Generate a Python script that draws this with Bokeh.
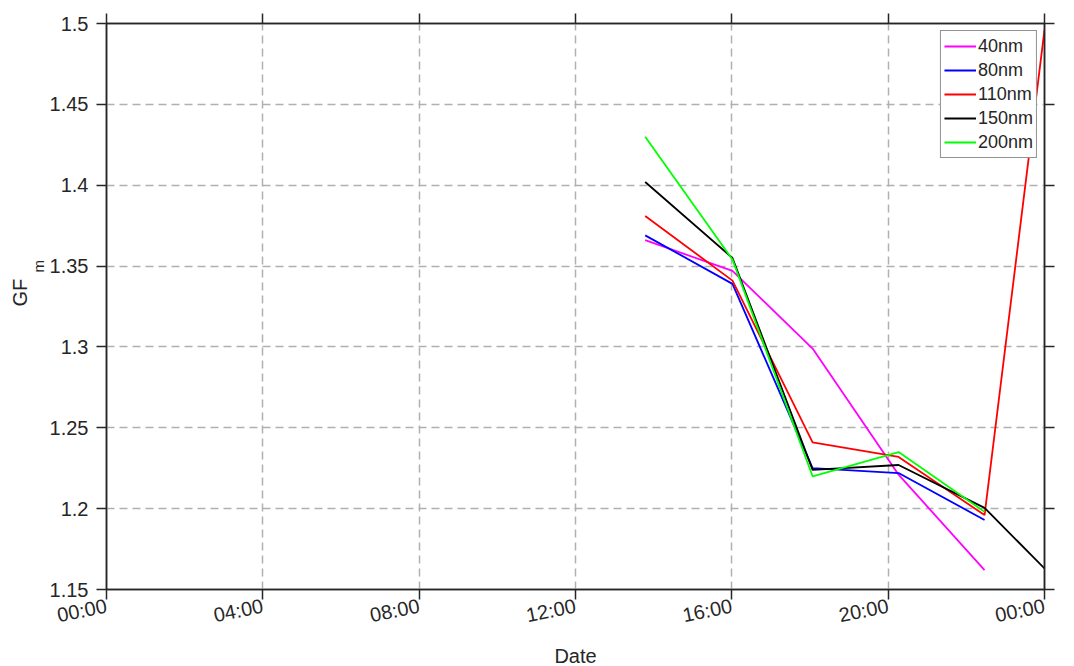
import numpy as np
import pandas as pd
from bokeh.plotting import figure
from bokeh.models import (Range1d, LinearAxis, DatetimeAxis, FixedTicker, CustomJSTickFormatter,
                          Title, Legend, LegendItem, ColumnDataSource)
from bokeh.embed import file_html
from bokeh.resources import INLINE

# ---- data ----
times = ["13:47", "16:01", "18:04", "20:16", "22:28", "24:00"]
gf_40nm = [1.366, 1.347, 1.299, 1.221, 1.162, np.nan]
gf_80nm = [1.369, 1.339, 1.225, 1.222, 1.193, np.nan]
gf_110nm = [1.381, 1.341, 1.241, 1.232, 1.196, 1.496]
gf_150nm = [1.402, 1.355, 1.224, 1.227, 1.2005, 1.163]
gf_200nm = [1.430, 1.354, 1.220, 1.235, 1.198, np.nan]
series_names = ["40nm", "80nm", "110nm", "150nm", "200nm"]
series_colors = ["#ff00ff", "#0000ff", "#ff0000", "#000000", "#00ff00"]
x_tick_labels = ["00:00", "04:00", "08:00", "12:00", "16:00", "20:00", "00:00"]
y_ticks = [1.15, 1.2, 1.25, 1.3, 1.35, 1.4, 1.45, 1.5]

base = pd.Timestamp("2021-01-01")
hour = pd.Timedelta(hours=1)


def to_dt(s):
    h, m = s.split(":")
    return base + pd.Timedelta(hours=int(h), minutes=int(m))


xs = [to_dt(t) for t in times]
x_tick_ms = [(base + 4 * i * hour).value / 1e6 for i in range(len(x_tick_labels))]

FONT = "Liberation Sans"
TXT = "#262626"

p = figure(width=1074, height=664, x_axis_type="datetime",
           x_range=Range1d(base, base + 24 * hour),
           y_range=Range1d(1.15, 1.5),
           output_backend="svg", toolbar_location=None,
           min_border_left=106, min_border_right=30, min_border_top=23, min_border_bottom=75)
p.frame_width = 938
p.frame_height = 566
p.background_fill_color = "white"
p.border_fill_color = "white"
p.outline_line_color = "#262626"
p.outline_line_width = 1.5

empty_fmt = CustomJSTickFormatter(code="return '';")


def style_ticks_only(ax):
    ax.axis_line_color = "#262626"
    ax.axis_line_width = 1.5
    ax.major_tick_line_color = "#262626"
    ax.major_tick_line_width = 1.5
    ax.major_tick_out = 10
    ax.major_tick_in = 0
    ax.minor_tick_line_color = None
    ax.major_label_text_font_size = "1px"
    ax.major_label_standoff = 0


# bottom axis with rotated time labels
xa = p.xaxis[0]
xa.ticker = FixedTicker(ticks=x_tick_ms)
xa.formatter = CustomJSTickFormatter(args=dict(labs=x_tick_labels, tks=x_tick_ms), code="""
    let best = 0;
    for (let i = 0; i < tks.length; i++) {
        if (Math.abs(tks[i] - tick) < Math.abs(tks[best] - tick)) best = i;
    }
    return labs[best];
""")
xa.major_label_orientation = 0.2
xa.axis_line_color = "#262626"
xa.axis_line_width = 1.5
xa.major_tick_line_color = "#262626"
xa.major_tick_line_width = 1.5
xa.major_tick_out = 10
xa.major_tick_in = 0
xa.minor_tick_line_color = None
xa.major_label_standoff = 6
xa.major_label_text_font = FONT
xa.major_label_text_font_size = "20px"
xa.major_label_text_color = TXT

# helper axis that only carries the "Date" label
date_ax = DatetimeAxis(ticker=FixedTicker(ticks=[]), formatter=empty_fmt)
date_ax.axis_line_color = None
date_ax.major_tick_line_color = None
date_ax.minor_tick_line_color = None
date_ax.major_tick_out = 0
date_ax.major_label_text_font_size = "1px"
date_ax.major_label_standoff = 0
date_ax.axis_label = "Date"
date_ax.axis_label_standoff = 4
date_ax.axis_label_text_font = FONT
date_ax.axis_label_text_font_size = "20px"
date_ax.axis_label_text_font_style = "normal"
date_ax.axis_label_text_color = TXT
p.add_layout(date_ax, "below")

# left axis
ya = p.yaxis[0]
ya.ticker = FixedTicker(ticks=y_ticks)
ya.formatter = CustomJSTickFormatter(code="return tick.toFixed(2).replace(/0$/, '');")
ya.axis_line_color = "#262626"
ya.axis_line_width = 1.5
ya.major_tick_line_color = "#262626"
ya.major_tick_line_width = 1.5
ya.major_tick_out = 10
ya.major_tick_in = 0
ya.minor_tick_line_color = None
ya.major_label_text_font = FONT
ya.major_label_text_font_size = "20px"
ya.major_label_text_color = TXT
ya.major_label_standoff = 8

# y label GF with subscript m
p.add_layout(Title(text="m", align="left", offset=317, standoff=0, text_font=FONT,
                   text_font_size="15px", text_font_style="normal", text_color=TXT), "left")
p.add_layout(Title(text="GF", align="left", offset=283, standoff=-6, text_font=FONT,
                   text_font_size="20px", text_font_style="normal", text_color=TXT), "left")

# top & right mirror axes (ticks only)
top = DatetimeAxis(ticker=FixedTicker(ticks=x_tick_ms), formatter=empty_fmt)
right = LinearAxis(ticker=FixedTicker(ticks=y_ticks), formatter=empty_fmt)
style_ticks_only(top)
style_ticks_only(right)
p.add_layout(top, "above")
p.add_layout(right, "right")

# grid
for g in (p.xgrid[0], p.ygrid[0]):
    g.grid_line_color = "#b0b0b0"
    g.grid_line_width = 1.5
    g.grid_line_dash = "8 5"
p.xgrid[0].ticker = FixedTicker(ticks=x_tick_ms)
p.ygrid[0].ticker = FixedTicker(ticks=y_ticks)

# lines
all_series = [gf_40nm, gf_80nm, gf_110nm, gf_150nm, gf_200nm]
items = []
for name, col, vals in zip(series_names, series_colors, all_series):
    src = ColumnDataSource(dict(x=xs, y=[float(v) for v in vals]))
    r = p.line("x", "y", source=src, line_color=col, line_width=1.8)
    items.append(LegendItem(label=name, renderers=[r]))

legend = Legend(items=items, location="top_right")
legend.margin = 7
legend.padding = 3
legend.spacing = 0
legend.label_height = 24
legend.glyph_height = 20
legend.glyph_width = 32
legend.label_standoff = 2
legend.label_text_font = FONT
legend.label_text_font_size = "18px"
legend.label_text_color = TXT
legend.border_line_color = "#262626"
legend.border_line_width = 1.5
legend.background_fill_color = "white"
legend.background_fill_alpha = 1.0
p.add_layout(legend)

open("out.html", "w").write(file_html(p, INLINE))
